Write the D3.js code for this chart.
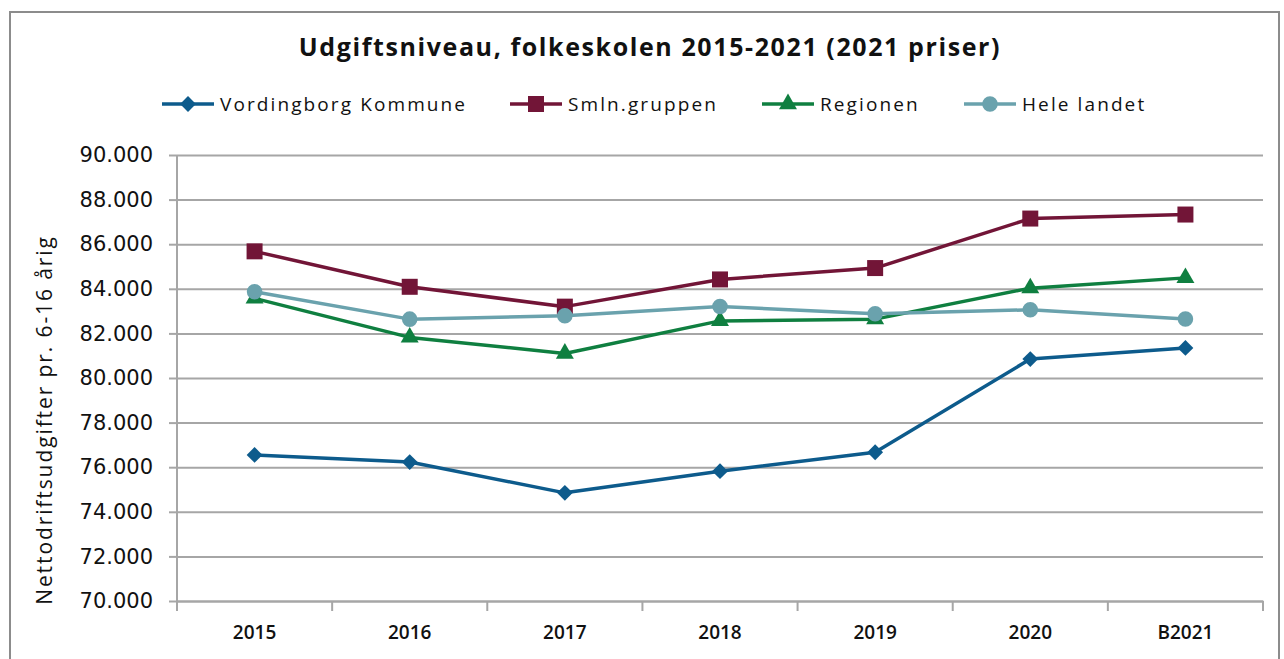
<!DOCTYPE html>
<html>
<head>
<meta charset="utf-8">
<script src="https://cdn.jsdelivr.net/npm/d3@7"></script>
<style>
  body { margin: 0; background: #fff; }
  svg { display: block; }
</style>
</head>
<body>
<div id="chart"></div>
<script>
// data
const years = ["2015", "2016", "2017", "2018", "2019", "2020", "B2021"];
const vordingborg = [76550, 76230, 74850, 75820, 76670, 80850, 81350];
const smlnGruppen = [85680, 84090, 83200, 84420, 84930, 87150, 87330];
const regionen = [83570, 81820, 81100, 82560, 82640, 84030, 84490];
const heleLandet = [83870, 82640, 82790, 83210, 82880, 83060, 82650];
const yTicks = [70000, 72000, 74000, 76000, 78000, 80000, 82000, 84000, 86000, 88000, 90000];

const seriesNames = ["Vordingborg Kommune", "Smln.gruppen", "Regionen", "Hele landet"];
const seriesValues = [vordingborg, smlnGruppen, regionen, heleLandet];
const colors = ["#0d5b8c", "#721537", "#0f7f40", "#6aa2ad"];

const width = 1284;
const height = 659;

const plotLeft = 177, plotRight = 1263, plotTop = 155, plotBottom = 601;

const svg = d3.select("#chart")
    .append("svg")
    .attr("width", width)
    .attr("height", height);

// outer frame
svg.append("rect")
    .attr("x", 10).attr("y", 12)
    .attr("width", 1269).attr("height", 660)
    .attr("fill", "none")
    .attr("stroke", "#8c8c8c")
    .attr("stroke-width", 2);

const x = d3.scaleBand().domain(years).range([plotLeft, plotRight]);
const y = d3.scaleLinear().domain([70000, 90000]).range([plotBottom, plotTop]);

const daLocale = d3.formatLocale({ decimal: ",", thousands: ".", grouping: [3], currency: ["", ""] });
const fmt = daLocale.format(",.0f");

// gridlines
svg.append("g")
    .attr("transform", `translate(${plotLeft},0)`)
    .call(d3.axisLeft(y).tickValues(yTicks).tickSize(-(plotRight - plotLeft)).tickFormat(""))
    .call(g => g.select(".domain").remove())
    .call(g => g.selectAll(".tick line").attr("stroke", "#a6a6a6").attr("stroke-width", 2));

// y axis
svg.append("g")
    .attr("transform", `translate(${plotLeft},0)`)
    .call(d3.axisLeft(y).tickValues(yTicks).tickSize(8).tickPadding(16).tickFormat(fmt))
    .call(g => g.select(".domain").attr("d", `M0,${plotTop}V${plotBottom + 10}`).attr("stroke", "#a6a6a6").attr("stroke-width", 2))
    .call(g => g.selectAll(".tick line").attr("stroke", "#a6a6a6").attr("stroke-width", 2))
    .call(g => g.selectAll(".tick text")
        .attr("fill", "#111")
        .style("font-family", "'DejaVu Sans', sans-serif")
        .style("font-size", "21px"));

// x axis
svg.append("g")
    .attr("transform", `translate(0,${plotBottom})`)
    .call(d3.axisBottom(x).tickSize(0).tickPadding(25))
    .call(g => g.select(".domain").attr("stroke", "#a6a6a6").attr("stroke-width", 2))
    .call(g => g.selectAll(".tick text")
        .attr("fill", "#111")
        .style("font-family", "'Open Sans', sans-serif")
        .style("font-weight", "600")
        .style("font-size", "19px"));

svg.append("g")
    .selectAll("line")
    .data(years.concat(["end"]))
    .join("line")
    .attr("x1", d => d === "end" ? plotRight : x(d))
    .attr("x2", d => d === "end" ? plotRight : x(d))
    .attr("y1", plotBottom)
    .attr("y2", plotBottom + 10)
    .attr("stroke", "#a6a6a6")
    .attr("stroke-width", 2);

// y axis title
svg.append("text")
    .attr("transform", `translate(52,420) rotate(-90)`)
    .attr("text-anchor", "middle")
    .attr("fill", "#111")
    .style("font-family", "'Open Sans', sans-serif")
    .style("font-size", "21px")
    .style("letter-spacing", "1.9px")
    .text("Nettodriftsudgifter pr. 6-16 årig");

// title
svg.append("text")
    .attr("x", 650)
    .attr("y", 56)
    .attr("text-anchor", "middle")
    .attr("fill", "#111")
    .style("font-family", "'Open Sans', sans-serif")
    .style("font-weight", "bold")
    .style("font-size", "25px")
    .style("letter-spacing", "1.6px")
    .text("Udgiftsniveau, folkeskolen 2015-2021 (2021 priser)");

const symbols = [
    { type: d3.symbolSquare, size: 125, rotate: 45 },
    { type: d3.symbolSquare, size: 256, rotate: 0 },
    { type: d3.symbolTriangle, size: 140, rotate: 0 },
    { type: d3.symbolCircle, size: 190, rotate: 0 }
];

const line = d3.line()
    .x((d, i) => x(years[i]) + x.bandwidth() / 2)
    .y(d => y(d));

seriesValues.forEach((vals, k) => {
    svg.append("path")
        .datum(vals)
        .attr("d", line)
        .attr("fill", "none")
        .attr("stroke", colors[k])
        .attr("stroke-width", 3.5)
        .attr("stroke-linejoin", "round");

    svg.append("g")
        .selectAll("path")
        .data(vals)
        .join("path")
        .attr("d", d3.symbol().type(symbols[k].type).size(symbols[k].size))
        .attr("transform", (d, i) => `translate(${x(years[i]) + x.bandwidth() / 2},${y(d)}) rotate(${symbols[k].rotate})`)
        .attr("fill", colors[k]);
});

// legend
const legendX = [162, 510, 762, 964];
const legend = svg.append("g")
    .selectAll("g")
    .data(seriesNames)
    .join("g")
    .attr("transform", (d, i) => `translate(${legendX[i]},104)`);

legend.append("line")
    .attr("x1", 0).attr("x2", 52)
    .attr("stroke", (d, i) => colors[i])
    .attr("stroke-width", 3.5);

legend.append("path")
    .attr("d", (d, i) => d3.symbol().type(symbols[i].type).size(symbols[i].size)())
    .attr("transform", (d, i) => `translate(26,0) rotate(${symbols[i].rotate})`)
    .attr("fill", (d, i) => colors[i]);

legend.append("text")
    .attr("x", 58)
    .attr("y", 7)
    .attr("fill", "#111")
    .style("font-family", "'Open Sans', sans-serif")
    .style("font-size", "19px")
    .style("letter-spacing", "2.1px")
    .text(d => d);
</script>
</body>
</html>
